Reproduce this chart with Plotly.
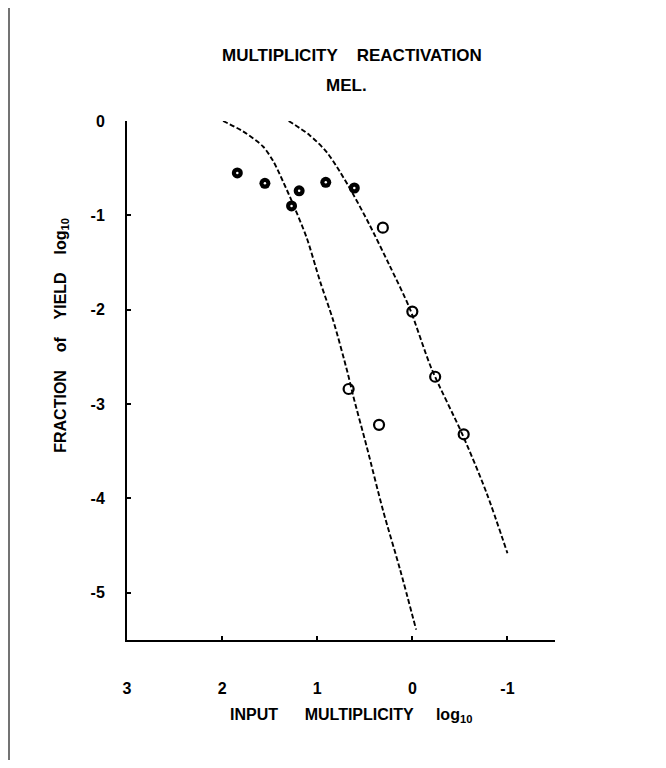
import plotly.graph_objects as go

# ---- data ----
filled_x = [1.84, 1.55, 1.27, 1.19, 0.91, 0.61]
filled_y = [-0.55, -0.66, -0.90, -0.74, -0.65, -0.71]

open_x = [0.31, 0.00, 0.67, 0.35, -0.24, -0.54]
open_y = [-1.13, -2.02, -2.84, -3.22, -2.71, -3.32]

curve_a_x = [1.99, 1.78, 1.57, 1.46, 1.36, 1.25, 1.11, 0.97, 0.83, 0.68, 0.62, 0.48, 0.31, 0.13, -0.04]
curve_a_y = [0.00, -0.11, -0.27, -0.43, -0.64, -0.89, -1.24, -1.70, -2.12, -2.67, -2.92, -3.45, -4.12, -4.75, -5.39]

curve_b_x = [1.30, 1.08, 0.90, 0.76, 0.62, 0.45, 0.24, 0.03, -0.20, -0.53, -0.78, -1.00]
curve_b_y = [0.00, -0.15, -0.33, -0.54, -0.78, -1.10, -1.53, -1.98, -2.62, -3.33, -3.94, -4.58]

x_ticks = [3, 2, 1, 0, -1]
x_ticktext = ["3", "2", "1", "0", "-1"]
y_ticks = [0, -1, -2, -3, -4, -5]
y_ticktext = ["0", "-1", "-2", "-3", "-4", "-5"]

FONT = "Liberation Sans, Arial, sans-serif"
dash = "5px,2.5px"

fig = go.Figure()
for cx, cy in [(curve_a_x, curve_a_y), (curve_b_x, curve_b_y)]:
    fig.add_trace(go.Scatter(x=cx, y=cy, mode="lines",
                             line=dict(color="black", width=1.9, dash=dash,
                                       shape="spline", smoothing=0.8),
                             hoverinfo="skip", cliponaxis=False))

fig.add_trace(go.Scatter(x=open_x, y=open_y, mode="markers",
                         marker=dict(symbol="circle-open", size=10, color="black",
                                     line=dict(width=2.2, color="black")),
                         cliponaxis=False))
fig.add_trace(go.Scatter(x=filled_x, y=filled_y, mode="markers",
                         marker=dict(symbol="circle", size=11, color="black",
                                     line=dict(width=0)),
                         cliponaxis=False))
fig.add_trace(go.Scatter(x=filled_x, y=filled_y, mode="markers",
                         marker=dict(symbol="circle", size=2.5, color="white",
                                     line=dict(width=0)),
                         cliponaxis=False))

axis_common = dict(showgrid=False, zeroline=False, showline=True, linecolor="black",
                   linewidth=2, ticks="inside", ticklen=4, tickwidth=2, tickcolor="black",
                   tickfont=dict(family=FONT, size=16, color="black", weight="bold"))

fig.update_xaxes(range=[3, -1.5], tickvals=x_ticks, ticktext=x_ticktext,
                 ticklabelstandoff=33, **axis_common)
fig.update_yaxes(range=[-5.5, 0], tickvals=y_ticks, ticktext=y_ticktext,
                 ticklabelstandoff=17, **axis_common)

nb = "\u00a0"
annots = [
    dict(text="MULTIPLICITY" + nb * 4 + "REACTIVATION", x=0.526, y=1.127, size=17),
    dict(text="MEL.", x=0.514, y=1.069, size=17),
    dict(text="INPUT" + nb * 6 + "MULTIPLICITY" + nb * 5 + "log<sub>10</sub>",
         x=0.523, y=-0.146, size=16),
]
for a in annots:
    fig.add_annotation(text=a["text"], x=a["x"], y=a["y"], xref="paper", yref="paper",
                       xanchor="center", yanchor="middle", showarrow=False,
                       font=dict(family=FONT, size=a["size"], color="black", weight="bold"))
fig.add_annotation(text="FRACTION" + nb * 4 + "of" + nb * 4 + "YIELD" + nb * 4 + "log<sub>10</sub>",
                   x=-0.152, y=0.588, xref="paper", yref="paper", textangle=-90,
                   xanchor="center", yanchor="middle", showarrow=False,
                   font=dict(family=FONT, size=16, color="black", weight="bold"))

# scan edge line on the left margin
fig.add_shape(type="line", xref="paper", yref="paper",
              x0=-0.2757, x1=-0.2757, y0=1.218, y1=-0.231,
              line=dict(color="#444444", width=1.5))

# page body has an 8px margin, so the figure is shifted; margins compensate
fig.update_layout(width=650, height=752, showlegend=False,
                  margin=dict(l=119, r=103, t=113, b=120),
                  paper_bgcolor="white", plot_bgcolor="white")

fig.write_html("out.html")
